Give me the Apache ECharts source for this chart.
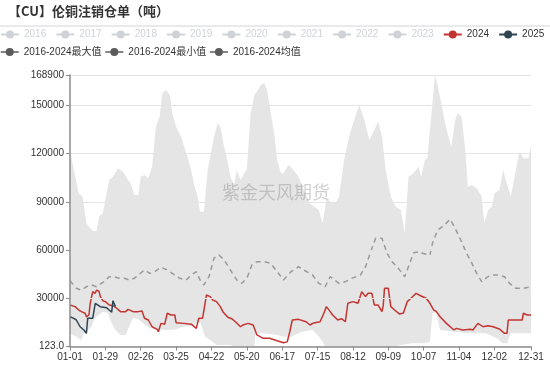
<!DOCTYPE html>
<html><head><meta charset="utf-8">
<script src="https://cdn.jsdelivr.net/npm/echarts@6/dist/echarts.min.js"></script>
<style>html,body{margin:0;padding:0;background:#fff}#c{width:550px;height:365px}</style>
</head><body><div id="c"></div>
<script>
// ---- categories (2024 calendar, MM-DD) ----
const monthLengths = [31,29,31,30,31,30,31,31,30,31,30,31];
const pad = n => (n < 10 ? '0' : '') + n;
const categories = [];
monthLengths.forEach((len, m) => { for (let d = 1; d <= len; d++) categories.push(pad(m + 1) + '-' + pad(d)); });

// ---- y axis ----
const yMin = 123, yMax = 168900;

// ---- 2016-2024 max ----
const maxDays = [0,3,7,10,13,15,18,21,23,26,29,31,34,38,42,46,48,51,54,56,59,62,65,68,71,73,76,79,81,84,88,90,93,96,98,101,103,106,109,111,114,117,119,122,125,127,130,132,135,138,140,143,146,148,151,154,156,159,162,164,167,169,173,177,181,185,190,197,200,203,210,213,217,221,225,229,233,237,241,244,247,250,254,258,262,265,268,272,276,278,281,283,286,289,291,294,297,299,302,305,307,310,313,315,318,322,326,328,331,334,336,340,343,345,349,353,356,359,363,365];
const maxVals = [123000,109800,95300,93200,76700,74600,71900,71900,80800,82900,95300,103600,105700,110900,108800,103600,101600,94300,94300,105700,106700,104700,111900,136800,143000,157500,159600,156500,145100,136800,130500,125400,118100,109800,101600,93200,83900,83900,109800,118100,130500,138900,136800,124300,114000,105700,100500,109800,103600,107800,109800,145100,156500,158500,162700,163700,159600,145100,130500,116000,107800,107800,112900,109800,105700,97400,89000,85000,76700,91200,89100,93200,116000,130500,140900,150200,140900,128500,134700,139900,130500,109800,93200,87000,85000,70500,105700,107800,111900,105700,116000,117100,143000,168900,162700,151300,138900,132600,124300,140900,145100,143000,122300,99500,100500,98500,93200,76700,85000,87000,95300,97400,109800,103600,93200,109800,121200,117100,117100,124300];

// ---- 2016-2024 min ----
const minDays = [0,5,9,11,14,17,19,21,26,30,33,36,40,44,48,50,54,58,63,69,74,79,85,89,97,103,107,111,116,127,130,146,147,154,164,169,175,181,184,192,196,200,202,230,257,271,280,285,287,290,293,315,329,339,342,346,349,365];
const minVals = [8300,6200,4200,8300,10400,12400,16600,18600,21800,21000,14500,10400,7300,7300,14500,17800,17000,14500,11600,10800,10400,10400,11000,12400,13000,15500,6200,4200,1000,1000,123,123,8300,8300,7300,6200,6200,8300,9300,10400,7300,3100,400,400,400,2100,2100,3100,21000,21000,10400,8300,8300,5000,2200,2200,8300,8300];

// ---- 2016-2024 mean ----
const avgDays = [0,5,9,13,17,21,23,27,31,35,39,43,47,51,54,59,63,67,72,77,81,87,92,96,100,103,106,110,114,118,122,127,132,136,140,144,148,154,159,164,169,175,181,185,192,197,202,206,213,218,223,230,234,238,242,247,251,255,260,265,269,272,277,279,285,287,291,295,301,305,310,314,318,322,326,330,334,339,344,348,353,359,365];
const avgVals = [41000,36300,35200,37300,38400,37300,38400,40400,43500,43500,42500,42500,41500,42500,44600,47700,45600,46600,49400,47700,45600,42500,41500,44600,46600,41500,38400,43500,55000,57000,53900,47700,41500,39400,42500,50800,52800,52800,51800,46600,41500,46600,49700,47700,44600,39400,37300,43500,39400,40400,42500,44600,49700,59000,67400,67400,58100,52800,48700,43500,51800,58400,59000,58100,57000,64300,72500,74600,79200,73600,65300,58100,52200,45600,40400,43100,44600,44600,43500,39400,36300,36300,37300];

// ---- 2024 ----
const days2024 = [0,4,7,9,12,13,15,16,18,20,21,23,24,26,28,29,31,34,37,40,44,46,50,54,57,59,62,65,69,70,72,75,77,80,83,84,90,96,100,102,105,108,111,113,116,119,121,125,128,131,135,137,141,145,148,153,158,164,169,172,174,176,181,182,187,190,193,198,201,203,206,208,212,215,218,220,224,228,231,234,236,239,241,244,247,248,249,252,254,257,261,264,267,270,274,278,282,285,288,290,293,298,304,306,311,317,319,323,327,331,335,340,344,346,347,351,358,359,362,365];
const vals2024 = [25900,24900,22800,21800,20800,18600,19700,27000,34200,33200,35200,34500,31100,28600,28000,29000,25900,25500,23900,21800,21800,23200,21800,21800,22200,17700,16600,12400,10800,9300,14500,14000,20800,19700,19700,14900,14500,14000,11400,17700,17700,32100,31100,29000,28000,24900,21800,18300,17400,15500,12400,13500,14500,13500,7300,5200,5200,3700,2500,3000,9300,16600,17000,16600,15500,13500,14800,15500,20800,24900,21800,19700,16600,17400,15500,27000,28000,27000,34200,31100,33200,33200,25900,25900,21800,25500,36300,36300,24900,22800,20300,21000,28000,30100,33200,31500,30100,27000,22800,22000,18600,14500,10400,11400,10400,10800,10400,14500,12400,13000,12400,11000,8300,8300,16600,16600,16600,20800,19700,19700];

// ---- 2025 ----
const days2025 = [0,3,5,8,11,13,14,18,20,24,29,31,33,34,36];
const vals2025 = [18600,17600,16600,12400,10400,8300,17700,17700,27000,24900,24200,22800,21500,28600,24900];

const hiddenYears = ['2016','2017','2018','2019','2020','2021','2022','2023'];
const statNames = ['2016-2024最大值','2016-2024最小值','2016-2024均值'];

const pairs = (d, v) => d.map((x, i) => [x, v[i]]);
const FONT = "'Liberation Sans','Noto Sans CJK SC',sans-serif";
const STAT_COLOR = '#5b5b5b';

const labelShown = idx => (idx % 28 === 0 && idx !== 364) || idx === 365;

const selected = {};
hiddenYears.forEach(y => selected[y] = false);

const chart = echarts.init(document.getElementById('c'), null, {renderer: 'canvas'});
const series = [
  {name: statNames[0], type: 'line', data: pairs(maxDays, maxVals), symbol: 'circle', showSymbol: false,
   itemStyle: {color: STAT_COLOR}, lineStyle: {width: 0, opacity: 0},
   areaStyle: {color: 'rgba(190,190,190,0.40)', opacity: 1}, silent: true, z: 1},
  {name: statNames[1], type: 'line', data: pairs(minDays, minVals), symbol: 'circle', showSymbol: false,
   itemStyle: {color: STAT_COLOR}, lineStyle: {width: 0, opacity: 0},
   areaStyle: {color: '#ffffff', opacity: 1}, silent: true, z: 1},
  {name: statNames[2], type: 'line', data: pairs(avgDays, avgVals), symbol: 'circle', showSymbol: false,
   itemStyle: {color: STAT_COLOR}, lineStyle: {color: '#9a9a9a', width: 1.5, type: [5, 4]}, z: 3}
];
hiddenYears.forEach(y => series.push({name: y, type: 'line', data: [], symbol: 'circle', showSymbol: false, itemStyle: {color: '#999'}}));
series.push({name: '2024', type: 'line', data: pairs(days2024, vals2024), symbol: 'circle', showSymbol: false,
  itemStyle: {color: '#c23531'}, lineStyle: {color: '#c23531', width: 1.5}, z: 4});
series.push({name: '2025', type: 'line', data: pairs(days2025, vals2025), symbol: 'circle', showSymbol: false,
  itemStyle: {color: '#2f4554'}, lineStyle: {color: '#2f4554', width: 1.5}, z: 5});

chart.setOption({
  animation: false,
  backgroundColor: '#fff',
  textStyle: {fontFamily: FONT},
  title: {text: '【CU】伦铜注销仓单（吨）', left: 8, top: 5, padding: 0,
    textStyle: {fontSize: 13, fontWeight: 'bold', color: '#333', fontFamily: "'Noto Sans CJK SC',sans-serif"}},
  graphic: [
    {type: 'line', shape: {x1: 0, y1: 26, x2: 550, y2: 26}, style: {stroke: '#d4d4d4', lineWidth: 1}, silent: true},
    {type: 'text', left: 222, top: 183, z: 100, silent: true,
     style: {text: '紫金天风期货', fontSize: 18, fill: 'rgba(120,120,120,0.35)', fontFamily: "'Noto Sans CJK SC',sans-serif"}}
  ],
  legend: [
    {data: hiddenYears.concat(['2024','2025']), selected: selected, left: 0, top: 29.5, padding: 0, width: 600,
     itemWidth: 18, itemHeight: 10, itemGap: 9.1, textStyle: {fontSize: 10, color: '#333', fontFamily: FONT}},
    {data: statNames.map(n => ({name: n, lineStyle: {opacity: 1, width: 1.5, color: STAT_COLOR, type: 'solid'}})),
     left: 0, top: 47, padding: 0, width: 600,
     itemWidth: 18, itemHeight: 10, itemGap: 3, textStyle: {fontSize: 10, color: '#333', fontFamily: FONT}}
  ],
  grid: {left: 70, right: 19, top: 75, bottom: 18.5, containLabel: false},
  xAxis: {type: 'category', data: categories, boundaryGap: false, z: 6,
    axisLine: {lineStyle: {color: '#8c8c8c', width: 1.5}},
    axisTick: {interval: labelShown, length: 4, lineStyle: {color: '#8c8c8c'}},
    axisLabel: {interval: labelShown, fontSize: 10, color: '#333', margin: 6, fontFamily: FONT},
    splitLine: {show: false}},
  yAxis: {type: 'value', min: yMin, max: yMax, splitNumber: 5, z: 6,
    axisLine: {show: true, lineStyle: {color: '#8c8c8c', width: 1.5}},
    axisTick: {show: true, length: 4, lineStyle: {color: '#8c8c8c'}},
    axisLabel: {fontSize: 10, color: '#333', margin: 6, fontFamily: FONT,
      formatter: v => (v === yMin ? '123.0' : String(v))},
    splitLine: {lineStyle: {color: '#e4e4e4', width: 1}}},
  series: series
});
</script></body></html>
